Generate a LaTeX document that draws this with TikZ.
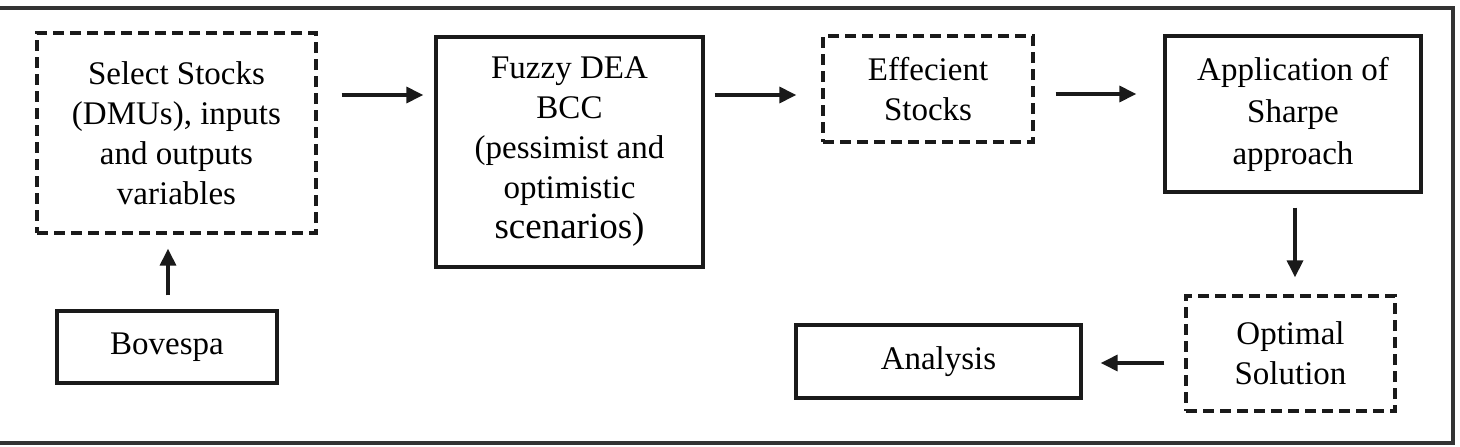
\documentclass[tikz,border=0pt]{standalone}
\usepackage{fontspec}
\setmainfont{Liberation Serif}
\usetikzlibrary{arrows.meta}
\definecolor{ink}{HTML}{1A1A1A}
\definecolor{frame}{HTML}{333333}
\tikzset{
  solidbox/.style={draw=ink, line width=3.3pt, rectangle, inner sep=0pt, align=center,
    font=\fontsize{33}{40}\selectfont},
  dashbox/.style={solidbox, dash pattern=on 11pt off 6pt},
  arr/.style={draw=ink, line width=3.3pt, -{Triangle[length=17pt,width=16pt]}},
}
\begin{document}
\begin{tikzpicture}[x=1pt,y=-1pt]
\useasboundingbox (0,0) rectangle (1460,447);
% outer frame (no left side)
\draw[frame, line width=3.3pt] (0,8) -- (1453,8) -- (1453,443) -- (0,443);

\node[dashbox, minimum width=279pt, minimum height=200pt] (b1) at (176.5,133)
  {Select Stocks\\(DMUs), inputs\\and outputs\\variables};
\node[solidbox, minimum width=267pt, minimum height=230pt] (b2) at (569.5,152)
  {Fuzzy DEA\\BCC\\(pessimist and\\optimistic\\{\fontsize{37}{42}\selectfont scenarios)}};
\node[dashbox, minimum width=210pt, minimum height=106pt] (b3) at (928,89)
  {Effecient\\Stocks};
\node[solidbox, minimum width=256pt, minimum height=156pt,
  font=\fontsize{33}{42}\selectfont] (b4) at (1293,114)
  {Application of\\Sharpe\\approach};
\node[solidbox, minimum width=220pt, minimum height=72pt] (b5) at (167,347)
  {Bovespa};
\node[dashbox, minimum width=209pt, minimum height=115pt] (b6) at (1290.5,353.5)
  {Optimal\\Solution};
\node[solidbox, minimum width=285pt, minimum height=73pt] (b7) at (938.5,361.5)
  {Analysis};

\draw[arr] ([xshift=24pt,yshift=38pt]b1.east) -- ([xshift=-11pt,yshift=57pt]b2.west);
\draw[arr] ([xshift=10pt,yshift=57pt]b2.east) -- ([xshift=-25pt,yshift=-6pt]b3.west);
\draw[arr] ([xshift=21pt,yshift=-5pt]b3.east) -- ([xshift=-27pt,yshift=20pt]b4.west);
\draw[arr] ([xshift=2pt,yshift=-14pt]b4.south) -- ([xshift=4.5pt,yshift=17pt]b6.north);
\draw[arr] ([xshift=-20pt,yshift=-9.5pt]b6.west) -- ([xshift=18pt,yshift=-1.5pt]b7.east);
\draw[arr] ([xshift=1pt,yshift=14pt]b5.north) -- ([xshift=-8.5pt,yshift=-14pt]b1.south);
\end{tikzpicture}
\end{document}
